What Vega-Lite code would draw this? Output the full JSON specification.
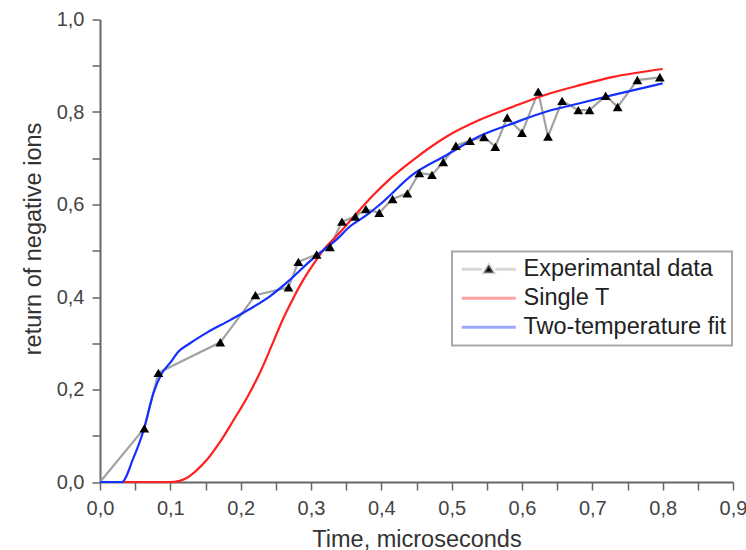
{
  "$schema": "https://vega.github.io/schema/vega-lite/v6.json",
  "width": 633,
  "height": 462.5,
  "autosize": {"type": "none"},
  "padding": {"left": 100, "top": 19.5, "right": 13, "bottom": 68},
  "background": "white",
  "config": {
    "view": {"stroke": null},
    "font": "Liberation Sans",
    "legend": {"strokeWidth": 2}
  },
  "datasets": {
    "exp": [
      {"series": "Experimantal data", "x": 0, "y": 0},
      {"series": "Experimantal data", "x": 0.063, "y": 0.116},
      {"series": "Experimantal data", "x": 0.083, "y": 0.236},
      {"series": "Experimantal data", "x": 0.171, "y": 0.302},
      {"series": "Experimantal data", "x": 0.221, "y": 0.404},
      {"series": "Experimantal data", "x": 0.268, "y": 0.421},
      {"series": "Experimantal data", "x": 0.282, "y": 0.476},
      {"series": "Experimantal data", "x": 0.308, "y": 0.492},
      {"series": "Experimantal data", "x": 0.327, "y": 0.508},
      {"series": "Experimantal data", "x": 0.344, "y": 0.563},
      {"series": "Experimantal data", "x": 0.363, "y": 0.574},
      {"series": "Experimantal data", "x": 0.378, "y": 0.590},
      {"series": "Experimantal data", "x": 0.397, "y": 0.582},
      {"series": "Experimantal data", "x": 0.416, "y": 0.612},
      {"series": "Experimantal data", "x": 0.437, "y": 0.624},
      {"series": "Experimantal data", "x": 0.454, "y": 0.668},
      {"series": "Experimantal data", "x": 0.472, "y": 0.664},
      {"series": "Experimantal data", "x": 0.488, "y": 0.692},
      {"series": "Experimantal data", "x": 0.506, "y": 0.727},
      {"series": "Experimantal data", "x": 0.526, "y": 0.738},
      {"series": "Experimantal data", "x": 0.546, "y": 0.746},
      {"series": "Experimantal data", "x": 0.562, "y": 0.725},
      {"series": "Experimantal data", "x": 0.579, "y": 0.788},
      {"series": "Experimantal data", "x": 0.600, "y": 0.755},
      {"series": "Experimantal data", "x": 0.623, "y": 0.844},
      {"series": "Experimantal data", "x": 0.637, "y": 0.747},
      {"series": "Experimantal data", "x": 0.657, "y": 0.824},
      {"series": "Experimantal data", "x": 0.680, "y": 0.804},
      {"series": "Experimantal data", "x": 0.696, "y": 0.804},
      {"series": "Experimantal data", "x": 0.719, "y": 0.835},
      {"series": "Experimantal data", "x": 0.736, "y": 0.811},
      {"series": "Experimantal data", "x": 0.764, "y": 0.869},
      {"series": "Experimantal data", "x": 0.796, "y": 0.875}
    ],
    "fits": [
      {"series": "Single T", "x": 0, "y": 0},
      {"series": "Single T", "x": 0.1, "y": 0},
      {"series": "Single T", "x": 0.112, "y": 0.002},
      {"series": "Single T", "x": 0.121, "y": 0.007},
      {"series": "Single T", "x": 0.135, "y": 0.022},
      {"series": "Single T", "x": 0.152, "y": 0.048},
      {"series": "Single T", "x": 0.17, "y": 0.085},
      {"series": "Single T", "x": 0.19, "y": 0.134},
      {"series": "Single T", "x": 0.21, "y": 0.185},
      {"series": "Single T", "x": 0.227, "y": 0.235},
      {"series": "Single T", "x": 0.245, "y": 0.298},
      {"series": "Single T", "x": 0.261, "y": 0.355},
      {"series": "Single T", "x": 0.275, "y": 0.398},
      {"series": "Single T", "x": 0.289, "y": 0.437},
      {"series": "Single T", "x": 0.303, "y": 0.470},
      {"series": "Single T", "x": 0.318, "y": 0.502},
      {"series": "Single T", "x": 0.339, "y": 0.536},
      {"series": "Single T", "x": 0.365, "y": 0.581},
      {"series": "Single T", "x": 0.389, "y": 0.621},
      {"series": "Single T", "x": 0.412, "y": 0.655},
      {"series": "Single T", "x": 0.445, "y": 0.696},
      {"series": "Single T", "x": 0.493, "y": 0.747},
      {"series": "Single T", "x": 0.54, "y": 0.783},
      {"series": "Single T", "x": 0.588, "y": 0.812},
      {"series": "Single T", "x": 0.635, "y": 0.838},
      {"series": "Single T", "x": 0.682, "y": 0.858},
      {"series": "Single T", "x": 0.73, "y": 0.876},
      {"series": "Single T", "x": 0.8, "y": 0.893},
      {"series": "Two-temperature fit", "x": 0, "y": 0},
      {"series": "Two-temperature fit", "x": 0.031, "y": 0},
      {"series": "Two-temperature fit", "x": 0.047, "y": 0.05},
      {"series": "Two-temperature fit", "x": 0.062, "y": 0.112},
      {"series": "Two-temperature fit", "x": 0.076, "y": 0.192},
      {"series": "Two-temperature fit", "x": 0.088, "y": 0.235},
      {"series": "Two-temperature fit", "x": 0.1, "y": 0.258},
      {"series": "Two-temperature fit", "x": 0.111, "y": 0.281},
      {"series": "Two-temperature fit", "x": 0.128, "y": 0.300},
      {"series": "Two-temperature fit", "x": 0.152, "y": 0.323},
      {"series": "Two-temperature fit", "x": 0.185, "y": 0.350},
      {"series": "Two-temperature fit", "x": 0.213, "y": 0.374},
      {"series": "Two-temperature fit", "x": 0.242, "y": 0.402},
      {"series": "Two-temperature fit", "x": 0.27, "y": 0.437},
      {"series": "Two-temperature fit", "x": 0.299, "y": 0.478},
      {"series": "Two-temperature fit", "x": 0.318, "y": 0.502},
      {"series": "Two-temperature fit", "x": 0.337, "y": 0.525},
      {"series": "Two-temperature fit", "x": 0.355, "y": 0.552},
      {"series": "Two-temperature fit", "x": 0.379, "y": 0.577},
      {"series": "Two-temperature fit", "x": 0.398, "y": 0.600},
      {"series": "Two-temperature fit", "x": 0.445, "y": 0.665},
      {"series": "Two-temperature fit", "x": 0.493, "y": 0.707},
      {"series": "Two-temperature fit", "x": 0.54, "y": 0.748},
      {"series": "Two-temperature fit", "x": 0.588, "y": 0.776},
      {"series": "Two-temperature fit", "x": 0.635, "y": 0.801},
      {"series": "Two-temperature fit", "x": 0.682, "y": 0.819},
      {"series": "Two-temperature fit", "x": 0.73, "y": 0.837},
      {"series": "Two-temperature fit", "x": 0.8, "y": 0.862}
    ]
  },
  "encoding": {
    "x": {
      "field": "x", "type": "quantitative",
      "scale": {"domain": [0, 0.9], "nice": false, "zero": false},
      "axis": {
        "title": "Time, microseconds",
        "values": [0, 0.05, 0.1, 0.15, 0.2, 0.25, 0.3, 0.35, 0.4, 0.45, 0.5, 0.55, 0.6, 0.65, 0.7, 0.75, 0.8, 0.85, 0.9],
        "labelExpr": "abs(datum.value*10 - round(datum.value*10)) < 0.001 ? replace(format(datum.value, '.1f'), '.', ',') : ''",
        "tickSize": 8,
        "encode": {"ticks": {"update": {"y2": {"signal": "abs(datum.value*10 - round(datum.value*10)) < 0.001 ? 8 : 4"}}}},
        "grid": false,
        "domainColor": "#666666", "domainWidth": 2,
        "tickColor": "#666666", "tickWidth": 1.5,
        "labelFontSize": 20, "labelColor": "#444444", "labelPadding": 8, "labelFlush": false, "labelOverlap": false,
        "titleFontSize": 23.5, "titleFontWeight": "normal", "titleColor": "#333333", "titlePadding": 9
      }
    },
    "y": {
      "field": "y", "type": "quantitative",
      "scale": {"domain": [0, 1], "nice": false},
      "axis": {
        "title": "return of  negative ions",
        "values": [0, 0.1, 0.2, 0.3, 0.4, 0.5, 0.6, 0.7, 0.8, 0.9, 1.0],
        "labelExpr": "round(datum.value*10) % 2 == 0 ? replace(format(datum.value, '.1f'), '.', ',') : ''",
        "tickSize": 8,
        "encode": {"ticks": {"update": {"x2": {"signal": "round(datum.value*10) % 2 == 0 ? -8 : -4"}}}},
        "grid": false,
        "domainColor": "#666666", "domainWidth": 2,
        "tickColor": "#666666", "tickWidth": 1.5,
        "labelFontSize": 20, "labelColor": "#444444", "labelPadding": 8, "labelFlush": false, "labelOverlap": false,
        "titleFontSize": 23.5, "titleFontWeight": "normal", "titleColor": "#333333",
        "titleX": -67, "titleY": 219, "titleBaseline": "middle", "titleAlign": "center", "titleAngle": -90
      }
    }
  },
  "layer": [
    {
      "data": {"name": "exp"},
      "mark": {"type": "line", "strokeWidth": 2.2},
      "encoding": {
        "color": {
          "field": "series", "type": "nominal",
          "scale": {"domain": ["Experimantal data", "Single T", "Two-temperature fit"], "range": ["#a2a2a2", "#ff2020", "#1430ff"]},
          "legend": {
            "title": null,
            "orient": "none", "legendX": 352, "legendY": 232,
            "padding": 6, "rowPadding": 4,
            "strokeColor": "#aaaaaa", "fillColor": "white",
            "labelFontSize": 23.5, "labelColor": "#222222", "labelLimit": 400,
            "symbolSize": 400, "symbolStrokeWidth": 3, "symbolOffset": 19, "labelOffset": 23,
            "encode": {
              "symbols": {
                "update": {
                  "shape": {"signal": "datum.value === 'Experimantal data' ? 'M-2.7,0H-0.65M0.65,0H2.7M-0.5,0.35L0,-0.45L0.5,0.35Z' : 'M-2.7,0H2.7'"},
                  "fill": {"signal": "datum.value === 'Experimantal data' ? 'black' : 'transparent'"},
                  "fillOpacity": {"value": 1},
                  "strokeOpacity": {"value": 0.42},
                  "strokeWidth": {"value": 3}
                }
              }
            }
          }
        }
      }
    },
    {
      "data": {"name": "fits"},
      "mark": {"type": "line", "strokeWidth": 2.2, "interpolate": "monotone"},
      "encoding": {
        "color": {"field": "series", "type": "nominal"}
      }
    },
    {
      "data": {"name": "exp"},
      "transform": [{"filter": "datum.x > 0"}],
      "mark": {"type": "point", "shape": "triangle-up", "filled": true, "color": "black", "size": 95, "opacity": 1},
      "encoding": {}
    }
  ]
}
